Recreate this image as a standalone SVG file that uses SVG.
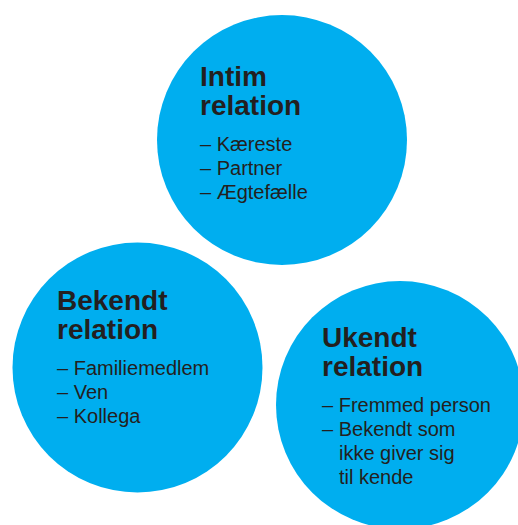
<svg xmlns="http://www.w3.org/2000/svg" width="518" height="525" viewBox="0 0 518 525">
<style>
.c{fill:#00AEEF}
.t{font-family:"Liberation Sans",Arial,sans-serif;font-weight:bold;font-size:28px;fill:#231F20}
.l{font-family:"Liberation Sans",Arial,sans-serif;font-size:20px;fill:#231F20}
</style>
<rect width="518" height="525" fill="#fff"/>
<g id="intim">
<circle class="c" cx="282" cy="140" r="125"/>
<text class="t" x="200" y="86">Intim</text>
<text class="t" x="200" y="115">relation</text>
<text class="l" x="200" y="151">– Kæreste</text>
<text class="l" x="200" y="175">– Partner</text>
<text class="l" x="200" y="199">– Ægtefælle</text>
</g>
<g id="bekendt">
<circle class="c" cx="137.5" cy="367.5" r="125"/>
<text class="t" x="57" y="310">Bekendt</text>
<text class="t" x="57" y="339">relation</text>
<text class="l" x="57" y="375">– Familiemedlem</text>
<text class="l" x="57" y="399">– Ven</text>
<text class="l" x="57" y="423">– Kollega</text>
</g>
<g id="ukendt">
<circle class="c" cx="400" cy="405" r="124"/>
<text class="t" x="322" y="347">Ukendt</text>
<text class="t" x="322" y="376">relation</text>
<text class="l" x="322" y="412">– Fremmed person</text>
<text class="l" x="322" y="436">– Bekendt som</text>
<text class="l" x="339" y="460">ikke giver sig</text>
<text class="l" x="339" y="484">til kende</text>
</g>
<g id="connectors"/>
</svg>
